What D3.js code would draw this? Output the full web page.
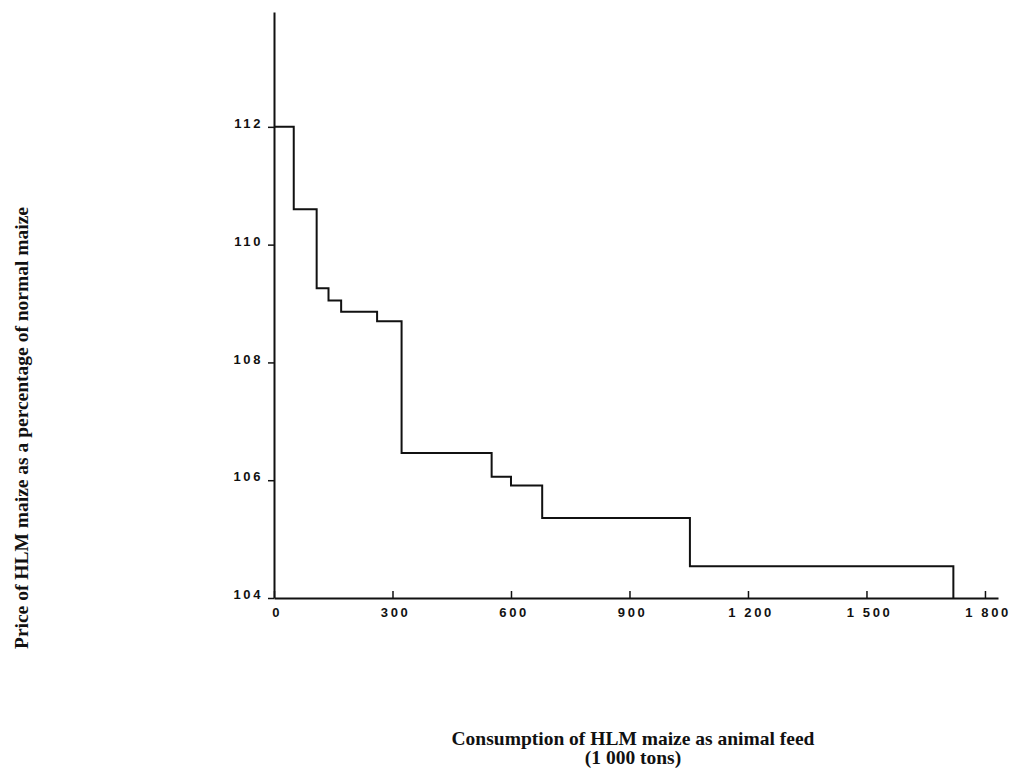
<!DOCTYPE html>
<html>
<head>
<meta charset="utf-8">
<script src="https://cdn.jsdelivr.net/npm/d3@7"></script>
<style>
body { margin: 0; background: #fff; }
.tick text { font-family: "Liberation Sans", Arial, sans-serif; font-weight: bold; font-size: 13px; letter-spacing: 2.6px; fill: #111; }
.title { font-family: "Liberation Serif", "Times New Roman", serif; font-weight: bold; font-size: 19.5px; fill: #111; }
</style>
</head>
<body>
<div id="chart"></div>
<script>
// step breakpoints along consumption axis (1 000 tons)
var breaks = [0, 50, 108, 138, 170, 261, 323, 551, 600, 679, 1053, 1720];
// price level held from each breakpoint to the next
var levels = [112, 110.6, 109.26, 109.05, 108.86, 108.7, 106.46, 106.06, 105.91, 105.36, 104.54];
var xTicks = [0, 300, 600, 900, 1200, 1500, 1800];
var yTicks = [104, 106, 108, 110, 112];

var width = 1012,
    height = 772;

var svg = d3.select("#chart").append("svg")
    .attr("width", width)
    .attr("height", height);

var x = d3.scaleLinear().domain([0, 1833]).range([274, 998]);
var y = d3.scaleLinear().domain([104, 113.95]).range([598, 12]);

// x axis, ticks pointing up into the plot
var xAxis = d3.axisBottom(x)
    .tickValues(xTicks)
    .tickSizeInner(-7)
    .tickSizeOuter(0)
    .tickPadding(10)
    .tickFormat(function (d) { return d3.format(",")(d).replace(",", " "); });

svg.append("g")
    .attr("transform", "translate(0," + y(104) + ")")
    .call(xAxis)
    .call(g => g.select(".domain").attr("stroke", "#111").attr("stroke-width", 2))
    .call(g => g.selectAll(".tick line").attr("stroke", "#111").attr("stroke-width", 1.5))
    .call(g => g.selectAll(".tick text").attr("dx", "0.2em"));

var yAxis = d3.axisLeft(y)
    .tickValues(yTicks)
    .tickSizeInner(6)
    .tickSizeOuter(0)
    .tickPadding(5);

svg.append("g")
    .attr("transform", "translate(" + x(0) + ",0)")
    .call(yAxis)
    .call(g => g.select(".domain").attr("stroke", "#111").attr("stroke-width", 2))
    .call(g => g.selectAll(".tick line").attr("stroke", "#111").attr("stroke-width", 1.5))
    .call(g => g.selectAll(".tick text").attr("dy", "0.05em"));

// the step curve
var points = breaks.map(function (b, i) {
    return [b, i < levels.length ? levels[i] : 104];
});

var line = d3.line()
    .x(d => x(d[0]))
    .y(d => y(d[1]))
    .curve(d3.curveStepAfter);

svg.append("path")
    .datum(points)
    .attr("d", line)
    .attr("fill", "none")
    .attr("stroke", "#111")
    .attr("stroke-width", 2);

// titles
svg.append("text")
    .attr("class", "title")
    .attr("transform", "translate(28,428) rotate(-90)")
    .attr("text-anchor", "middle")
    .text("Price of HLM maize as a percentage of normal maize");

svg.append("text")
    .attr("class", "title")
    .attr("x", 633)
    .attr("y", 745)
    .attr("text-anchor", "middle")
    .text("Consumption of HLM maize as animal feed");

svg.append("text")
    .attr("class", "title")
    .attr("x", 633)
    .attr("y", 764)
    .attr("text-anchor", "middle")
    .text("(1 000 tons)");
</script>
</body>
</html>
